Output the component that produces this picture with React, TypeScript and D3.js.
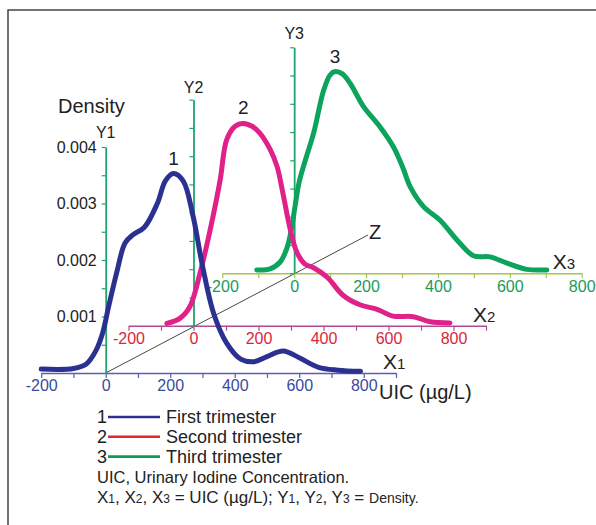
import React, { useEffect, useRef } from 'react';
import * as d3 from 'd3';

// First trimester (panel 1)
const uic1 = [-200, -100, -60, -30, -10, 10, 35, 60, 85, 120, 160, 185, 210, 240, 270, 300, 335, 375, 420, 460, 500, 550, 600, 660, 720, 790];
const dens1 = [0.00007, 0.00008, 0.00016, 0.0004, 0.0007, 0.0012, 0.0018, 0.0023, 0.00245, 0.00258, 0.003, 0.0034, 0.00353, 0.0034, 0.0028, 0.0019, 0.00105, 0.00053, 0.00024, 0.0002, 0.00029, 0.00039, 0.00027, 0.0001, 0.00005, 0.00003];

// Second trimester (panel 2)
const uic2 = [-82, -42, -11, 20, 51, 82, 102, 128, 153, 180, 204, 235, 257, 275, 297, 318, 343, 368, 411, 460, 512, 565, 614, 676, 728, 789];
const dens2 = [0.00004, 0.00013, 0.00034, 0.00093, 0.00169, 0.00258, 0.00329, 0.00353, 0.00358, 0.00353, 0.00341, 0.00313, 0.00282, 0.00235, 0.00172, 0.0013, 0.00109, 0.00103, 0.00086, 0.00054, 0.00037, 0.00029, 0.00017, 0.00016, 0.00007, 0.00005];

// Third trimester (panel 3)
const uic3 = [-104, -67, -39, -20, -8, 3, 14, 31, 54, 82, 100, 114, 134, 156, 193, 239, 276, 303, 323, 360, 406, 453, 499, 545, 592, 647, 703];
const dens3 = [0.00006, 0.00008, 0.0002, 0.00045, 0.00077, 0.00121, 0.00162, 0.002, 0.00248, 0.00324, 0.00351, 0.00357, 0.00353, 0.00336, 0.00295, 0.00259, 0.00224, 0.00186, 0.00153, 0.00118, 0.00094, 0.00059, 0.00031, 0.00029, 0.00018, 0.00007, 0.00006];

const xTicks = [-200, -100, 0, 100, 200, 300, 400, 500, 600, 700, 800, 900];
const xLabels = [-200, 0, 200, 400, 600, 800];
const yTicks = [0, 0.0005, 0.001, 0.0015, 0.002, 0.0025, 0.003, 0.0035, 0.004];
const yLabels = [0.001, 0.002, 0.003, 0.004];

const legendNames = ['First trimester', 'Second trimester', 'Third trimester'];
const legendColors = ['#2e3192', '#e8242c', '#0c9f4f'];

const FONT = '"Liberation Sans", Arial, sans-serif';

export default function App() {
  const ref = useRef<SVGSVGElement>(null);

  useEffect(() => {
    const svg = d3.select(ref.current);
    svg.selectAll('*').remove();

    // frame (left + top)
    svg.append('path').attr('d', 'M8,525V10H596').attr('fill', 'none')
      .attr('stroke', '#444').attr('stroke-width', 1.5);

    const panels = [
      { x: d3.scaleLinear().domain([-200, 900]).range([41.2, 396]), y0: 373, xMax: 900,
        uic: uic1, dens: dens1, color: '#2b3190', axisColor: '#5a5eae', labelColor: '#3b4a9e', yLab: true,
        name: '1', sub: '1', ylab: 'Y1', ylabGap: 9 },
      { x: d3.scaleLinear().domain([-200, 900]).range([128.5, 486]), y0: 325.7, xMax: 900,
        uic: uic2, dens: dens2, color: '#e0218a', axisColor: '#b24a92', labelColor: '#d9263c', yLab: false,
        name: '2', sub: '2', ylab: 'Y2', ylabGap: 7 },
      { x: d3.scaleLinear().domain([-200, 800]).range([222.3, 581.7]), y0: 273.3, xMax: 800,
        uic: uic3, dens: dens3, color: '#0ca35c', axisColor: '#a6c84a', labelColor: '#1a9a5c', yLab: false,
        name: '3', sub: '3', ylab: 'Y3', ylabGap: 8 },
    ];

    // Z line through the three origins
    svg.append('line').attr('x1', 105.7).attr('y1', 373).attr('x2', 368).attr('y2', 235)
      .attr('stroke', '#333').attr('stroke-width', 0.9);
    svg.append('text').attr('x', 369).attr('y', 239).text('Z')
      .attr('font-family', FONT).attr('font-size', 20).attr('fill', '#222');

    // draw back panel first
    panels.slice().reverse().forEach(p => {
      const y = d3.scaleLinear().domain([0, 0.004]).range([p.y0, p.y0 - 226]);
      const ox = p.x(0);

      const xAxis = svg.append('g').attr('transform', `translate(0,${p.y0})`)
        .call(d3.axisBottom(p.x).tickValues(xTicks.filter(t => t <= p.xMax)).tickSize(5).tickSizeOuter(0).tickPadding(2)
          .tickFormat(d => (xLabels.includes(+d) ? String(d) : '')));
      xAxis.select('.domain').attr('stroke', p.axisColor).attr('stroke-width', 1.6);
      xAxis.selectAll('.tick line').attr('stroke', p.axisColor).attr('stroke-width', 1.2);
      xAxis.selectAll('.tick text').attr('fill', p.labelColor).attr('font-family', FONT).attr('font-size', 16);

      const yAxis = svg.append('g').attr('transform', `translate(${ox},0)`)
        .call(d3.axisLeft(y).tickValues(yTicks).tickSize(4).tickSizeOuter(0).tickPadding(5)
          .tickFormat(d => (p.yLab && yLabels.includes(+d) ? d3.format('.3f')(+d) : '')));
      yAxis.select('.domain').attr('stroke', '#1fa36d').attr('stroke-width', 1.8);
      yAxis.selectAll('.tick line').attr('stroke', '#1fa36d').attr('stroke-width', 1.2);
      yAxis.selectAll('.tick text').attr('fill', '#222').attr('font-family', FONT).attr('font-size', 16);

      svg.append('text').attr('x', ox).attr('y', y(0.004) - p.ylabGap).attr('text-anchor', 'middle')
        .attr('font-family', FONT).attr('font-size', 16).attr('fill', '#222').text(p.ylab);

      const pts = p.uic.map((u, i) => [u, p.dens[i]] as [number, number]);
      const line = d3.line<[number, number]>().x(d => p.x(d[0])).y(d => y(d[1]))
        .curve(d3.curveCatmullRom.alpha(0.5));
      svg.append('path').datum(pts).attr('d', line).attr('fill', 'none')
        .attr('stroke', p.color).attr('stroke-width', 5).attr('stroke-linecap', 'round');

      // curve number at peak
      const peak = pts.reduce((a, b) => (b[1] > a[1] ? b : a));
      svg.append('text').attr('x', p.x(peak[0])).attr('y', y(peak[1]) - 9).attr('text-anchor', 'middle')
        .attr('font-family', FONT).attr('font-size', 19).attr('fill', '#222').text(p.name);

      // X axis name
      const xl = svg.append('text').attr('x', p.x(p.xMax === 900 ? 900 : 800) - (p.xMax === 900 ? 13 : 29))
        .attr('y', p.y0 - 4).attr('font-family', FONT).attr('font-size', 21).attr('fill', '#222');
      xl.append('tspan').text('X');
      xl.append('tspan').attr('font-size', 15).text(p.sub);
    });

    svg.append('text').attr('x', 58).attr('y', 113).attr('font-family', FONT).attr('font-size', 20)
      .attr('fill', '#222').text('Density');
    svg.append('text').attr('x', 379).attr('y', 399).attr('font-family', FONT).attr('font-size', 20)
      .attr('fill', '#222').text('UIC (µg/L)');

    // legend
    const lg = svg.append('g').attr('font-family', FONT).attr('fill', '#222');
    legendNames.forEach((n, i) => {
      const cy = 417 + i * 19.8;
      lg.append('text').attr('x', 97).attr('y', cy + 6).attr('font-size', 18).text(String(i + 1));
      lg.append('line').attr('x1', 108).attr('x2', 160).attr('y1', cy).attr('y2', cy)
        .attr('stroke', legendColors[i]).attr('stroke-width', 2.6);
      lg.append('text').attr('x', 166).attr('y', cy + 6).attr('font-size', 18).text(n);
    });
    lg.append('text').attr('x', 97).attr('y', 483).attr('font-size', 16.5).text('UIC, Urinary Iodine Concentration.');
    const last = lg.append('text').attr('x', 97).attr('y', 503).attr('font-size', 17);
    ['1', '2', '3'].forEach((s, i) => {
      last.append('tspan').text('X');
      last.append('tspan').attr('font-size', 12).text(s);
      last.append('tspan').text(i < 2 ? ', ' : ' = UIC (µg/L); ');
    });
    ['1', '2', '3'].forEach((s, i) => {
      last.append('tspan').text('Y');
      last.append('tspan').attr('font-size', 12).text(s);
      last.append('tspan').text(i < 2 ? ', ' : ' = ');
    });
    last.append('tspan').attr('font-size', 14).text('Density.');
  }, []);

  return (
    <svg ref={ref} width={596} height={525}
      style={{ position: 'absolute', left: 0, top: 0, background: '#fff' }} />
  );
}
